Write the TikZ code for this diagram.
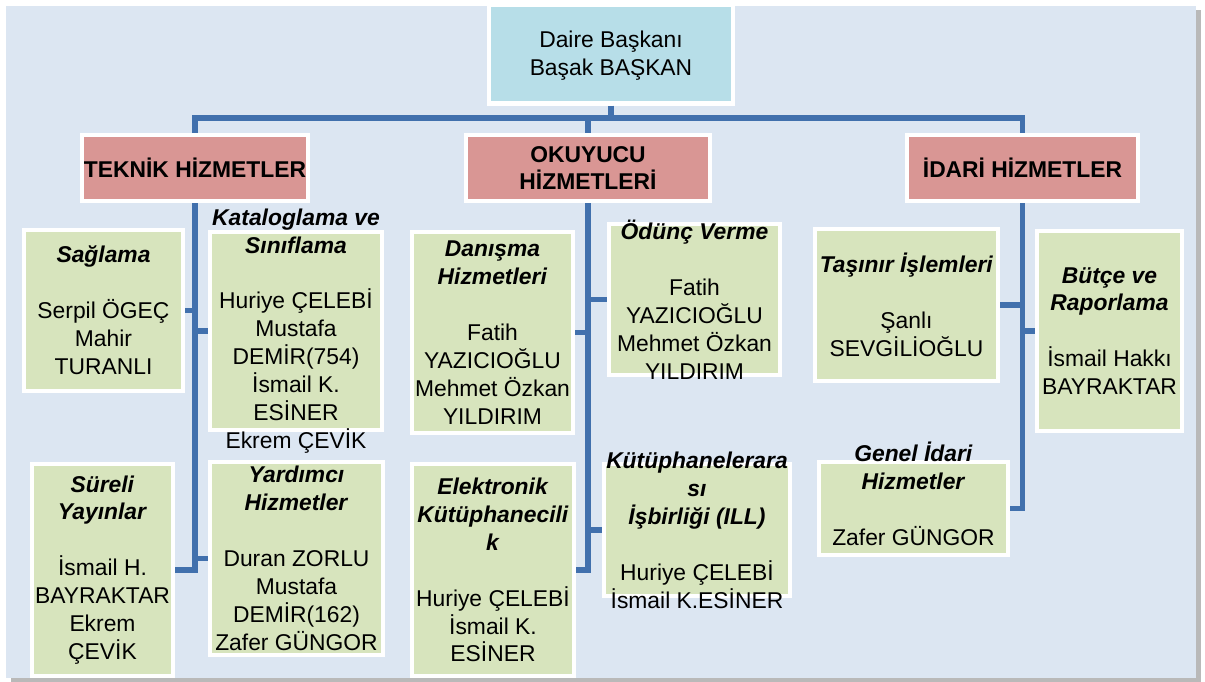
\documentclass[tikz,border=0pt]{standalone}
\usepackage{fontspec}
\setmainfont{Liberation Sans}
\usetikzlibrary{shadows}
\definecolor{panel}{HTML}{DCE6F2}
\definecolor{topfill}{HTML}{B7DEE8}
\definecolor{headfill}{HTML}{D99694}
\definecolor{unitfill}{HTML}{D7E4BD}
\definecolor{linkblue}{HTML}{4170AD}
\newcommand{\birim}[1]{\textbf{\textit{#1}}}

\begin{document}
\begin{tikzpicture}[x=0.02cm,y=-0.02cm,
    box/.style={draw=white,line width=2.5pt,inner sep=0pt},
    topbox/.style={box,fill=topfill},
    headbox/.style={box,fill=headfill,align=center,font=\bfseries\fontsize{13}{15.9}\selectfont},
    unitbox/.style={box,fill=unitfill},
    txt/.style={align=center,inner sep=0pt,font=\fontsize{13}{15.9}\selectfont},
    link/.style={draw=linkblue,line width=3pt}]
        \useasboundingbox (0,0) rectangle (1205,682);
        \fill[panel,drop shadow={shadow xshift=3pt,shadow yshift=-2pt,fill=black!55}] (6,6) rectangle (1196,678);
        % top and departments
        \draw (611,54) node[topbox,minimum width=4.88cm,minimum height=1.98cm](daire) {};
        \draw (611,56) node[txt](dairetxt) {Daire Başkanı\\Başak BAŞKAN};
        \draw (195,168) node[headbox,minimum width=4.52cm,minimum height=1.32cm](teknik) {TEKNİK HİZMETLER};
        \draw (588,168) node[headbox,minimum width=4.88cm,minimum height=1.32cm](okuyucu) {OKUYUCU\\HİZMETLERİ};
        \draw (1022.5,168) node[headbox,minimum width=4.62cm,minimum height=1.32cm](idari) {İDARİ HİZMETLER};
        \coordinate (bus) at (611,118);
        \draw[link] (daire.south) -- (bus);
        \draw[link] (bus) -| (teknik.north);
        \draw[link] (bus) -| (okuyucu.north);
        \draw[link] (bus) -| (idari.north);
        % teknik
        \draw (103.5,310.5) node[unitbox,minimum width=3.18cm,minimum height=3.22cm](saglama) {};
        \draw (296,331) node[unitbox,minimum width=3.44cm,minimum height=3.96cm](katalog) {};
        \draw (102.5,570) node[unitbox,minimum width=2.82cm,minimum height=4.24cm](sureli) {};
        \draw (296.5,558.5) node[unitbox,minimum width=3.46cm,minimum height=3.86cm](yardimci) {};
        \draw[link] (teknik.south) |- (sureli.east);
        \draw[link] (saglama.east) -- (saglama.east -| teknik.south);
        \draw[link] (katalog.west) -- (katalog.west -| teknik.south);
        \draw[link] (yardimci.west) -- (yardimci.west -| teknik.south);
        \draw (saglama.center) node[txt](saglamatxt) {\birim{Sağlama}\\[15.9pt]Serpil ÖGEÇ\\Mahir\\TURANLI};
        \draw (katalog.center) node[txt](katalogtxt) {\birim{Kataloglama ve}\\\birim{Sınıflama}\\[15.9pt]Huriye ÇELEBİ\\Mustafa\\DEMİR(754)\\İsmail K.\\ESİNER\\Ekrem ÇEVİK};
        \draw (sureli.center) node[txt](surelitxt) {\birim{Süreli}\\\birim{Yayınlar}\\[15.9pt]İsmail H.\\BAYRAKTAR\\Ekrem\\ÇEVİK};
        \draw (yardimci.center) node[txt](yardimcitxt) {\birim{Yardımcı}\\\birim{Hizmetler}\\[15.9pt]Duran ZORLU\\Mustafa\\DEMİR(162)\\Zafer GÜNGOR};
        % okuyucu
        \draw (492.5,332.5) node[unitbox,minimum width=3.22cm,minimum height=4.02cm](danisma) {};
        \draw (694.5,299.5) node[unitbox,minimum width=3.42cm,minimum height=3.02cm](odunc) {};
        \draw (493,570) node[unitbox,minimum width=3.24cm,minimum height=4.24cm](elektronik) {};
        \draw (697,530) node[unitbox,minimum width=3.72cm,minimum height=2.64cm](ill) {};
        \draw[link] (okuyucu.south) |- (elektronik.east);
        \draw[link] (danisma.east) -- (danisma.east -| okuyucu.south);
        \draw[link] (odunc.west) -- (odunc.west -| okuyucu.south);
        \draw[link] (ill.west) -- (ill.west -| okuyucu.south);
        \draw (danisma.center) node[txt](danismatxt) {\birim{Danışma}\\\birim{Hizmetleri}\\[15.9pt]Fatih\\YAZICIOĞLU\\Mehmet Özkan\\YILDIRIM};
        \draw (odunc.center) node[txt](odunctxt) {\birim{Ödünç Verme}\\[15.9pt]Fatih\\YAZICIOĞLU\\Mehmet Özkan\\YILDIRIM};
        \draw (elektronik.center) node[txt](elektroniktxt) {\birim{Elektronik}\\\birim{Kütüphanecili}\\\birim{k}\\[15.9pt]Huriye ÇELEBİ\\İsmail K.\\ESİNER};
        \draw (ill.center) node[txt](illtxt) {\birim{Kütüphanelerara}\\\birim{sı}\\\birim{İşbirliği (ILL)}\\[15.9pt]Huriye ÇELEBİ\\İsmail K.ESİNER};
        % idari
        \draw (906.5,305) node[unitbox,minimum width=3.66cm,minimum height=3.04cm](tasinir) {};
        \draw (1109.5,331) node[unitbox,minimum width=2.90cm,minimum height=4.00cm](butce) {};
        \draw (913.5,508.5) node[unitbox,minimum width=3.78cm,minimum height=1.86cm](genel) {};
        \draw[link] (idari.south) |- (genel.east);
        \draw[link] (tasinir.east) -- (tasinir.east -| idari.south);
        \draw[link] (butce.west) -- (butce.west -| idari.south);
        \draw (tasinir.center) node[txt](tasinirtxt) {\birim{Taşınır İşlemleri}\\[15.9pt]Şanlı\\SEVGİLİOĞLU};
        \draw (butce.center) node[txt](butcetxt) {\birim{Bütçe ve}\\\birim{Raporlama}\\[15.9pt]İsmail Hakkı\\BAYRAKTAR};
        \draw (913.5,494) node[txt](geneltxt) {\birim{Genel İdari}\\\birim{Hizmetler}\\[15.9pt]Zafer GÜNGOR};
    \end{tikzpicture}
\end{document}
